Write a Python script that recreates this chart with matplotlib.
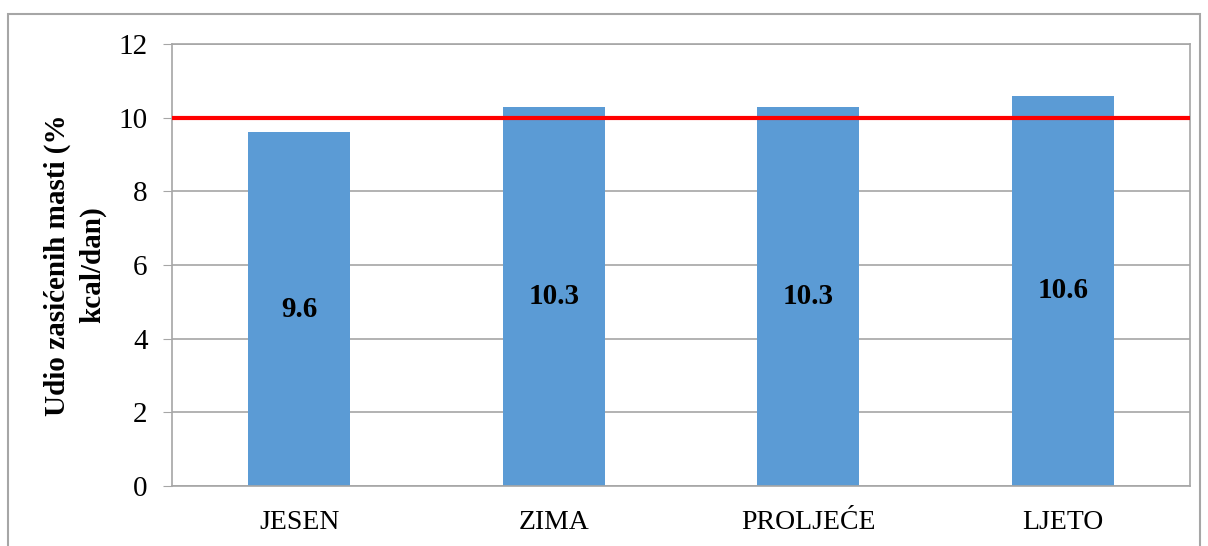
import matplotlib.pyplot as plt
from matplotlib.patches import Rectangle

# Data
seasons = ['JESEN', 'ZIMA', 'PROLJEĆE', 'LJETO']
values = [9.6, 10.3, 10.3, 10.6]
labels = ['9.6', '10.3', '10.3', '10.6']
limit = 10

plt.rcParams['font.family'] = ['Liberation Serif', 'DejaVu Serif']

fig = plt.figure(figsize=(12.08, 5.46), dpi=100)
ax = fig.add_axes([172 / 1208, 1 - 486 / 546, 1018 / 1208, 442 / 546])

# outer chart frame
fig.patches.append(Rectangle((8 / 1208, -0.05), 1192 / 1208, 1 - 14 / 546 + 0.05,
                             transform=fig.transFigure, fill=False,
                             edgecolor='#a6a6a6', linewidth=1.5))

x = range(len(seasons))
ax.bar(x, values, width=0.4, color='#5b9bd5', zorder=2)
for i, v in enumerate(values):
    ax.text(i, v / 2, labels[i], ha='center', va='center',
            fontsize=21, fontweight='bold', zorder=4)

ax.axhline(limit, color='#ff0000', linewidth=3, zorder=3)

ax.set_xlim(-0.5, len(seasons) - 0.5)
ax.set_ylim(0, 12)
ax.set_yticks(range(0, 13, 2))
ax.set_xticks(list(x))
ax.set_xticklabels(seasons)
ax.yaxis.grid(True, color='#a6a6a6', linewidth=1.2, zorder=0)
ax.set_axisbelow(True)
for s in ax.spines.values():
    s.set_color('#a6a6a6')
    s.set_linewidth(1.2)
ax.tick_params(axis='y', length=6.5, color='#a6a6a6', labelsize=21, pad=11)
ax.tick_params(axis='x', length=0, labelsize=20, pad=17.5)

ax.set_ylabel('Udio zasićenih masti (%\nkcal/dan)', fontsize=21,
              fontweight='bold', labelpad=9, linespacing=1.35)

fig.savefig('out.png', dpi=100)
